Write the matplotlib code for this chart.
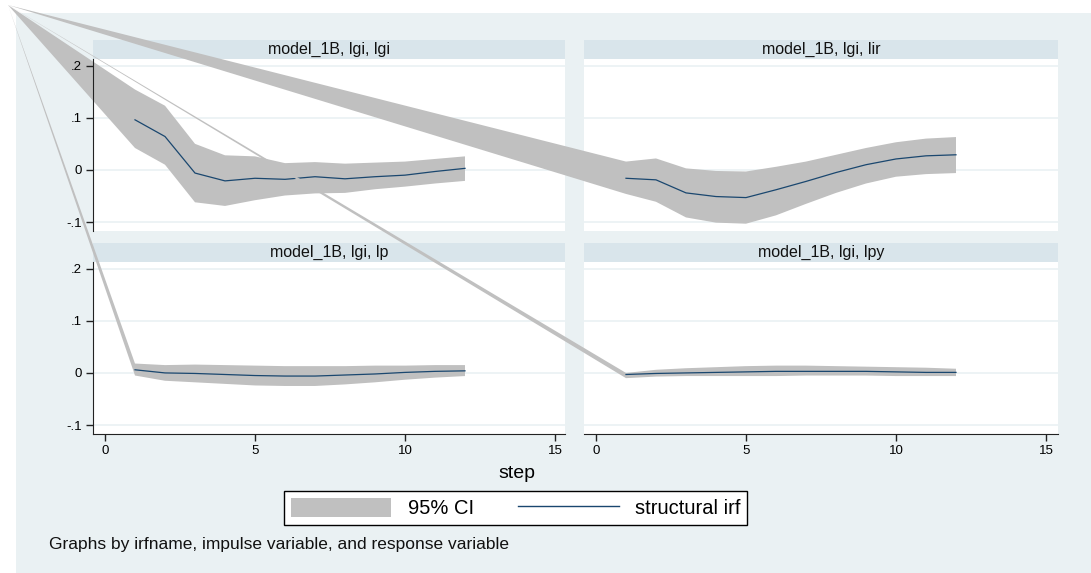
import numpy as np
import matplotlib
matplotlib.use("Agg")
import matplotlib.pyplot as plt
from matplotlib.patches import Rectangle, Patch
from matplotlib.lines import Line2D

plt.rcParams["font.family"] = ["Liberation Sans", "DejaVu Sans"]

# impulse lgi -> responses, steps 1..12 (step 0 band collapses to the corner, as in the original)
steps = np.arange(1, 13)
titles = ["model_1B, lgi, lgi", "model_1B, lgi, lir", "model_1B, lgi, lp", "model_1B, lgi, lpy"]

irf_lgi = [0.096, 0.064, -0.006, -0.021, -0.016, -0.018, -0.013, -0.017, -0.013, -0.010, -0.003, 0.003]
hi_lgi = [0.154, 0.123, 0.050, 0.028, 0.026, 0.013, 0.015, 0.012, 0.014, 0.016, 0.021, 0.026]
lo_lgi = [0.042, 0.010, -0.062, -0.069, -0.058, -0.049, -0.045, -0.044, -0.037, -0.032, -0.026, -0.021]

irf_lir = [-0.016, -0.019, -0.044, -0.051, -0.053, -0.038, -0.022, -0.005, 0.010, 0.021, 0.027, 0.029]
hi_lir = [0.016, 0.022, 0.003, -0.002, -0.003, 0.006, 0.016, 0.029, 0.042, 0.053, 0.060, 0.063]
lo_lir = [-0.046, -0.061, -0.091, -0.101, -0.103, -0.087, -0.065, -0.044, -0.026, -0.013, -0.008, -0.006]

irf_lp = [0.006, 0.000, -0.001, -0.003, -0.005, -0.006, -0.006, -0.004, -0.002, 0.001, 0.003, 0.004]
hi_lp = [0.018, 0.015, 0.016, 0.015, 0.014, 0.013, 0.013, 0.013, 0.014, 0.014, 0.015, 0.015]
lo_lp = [-0.005, -0.015, -0.018, -0.021, -0.024, -0.025, -0.025, -0.022, -0.018, -0.013, -0.009, -0.006]

irf_lpy = [-0.003, -0.001, 0.000, 0.001, 0.002, 0.003, 0.003, 0.003, 0.003, 0.002, 0.001, 0.001]
hi_lpy = [0.000, 0.006, 0.009, 0.011, 0.013, 0.014, 0.014, 0.013, 0.012, 0.011, 0.010, 0.008]
lo_lpy = [-0.010, -0.007, -0.006, -0.006, -0.006, -0.006, -0.005, -0.005, -0.005, -0.006, -0.006, -0.006]

irfs = [irf_lgi, irf_lir, irf_lp, irf_lpy]
his = [hi_lgi, hi_lir, hi_lp, hi_lpy]
los = [lo_lgi, lo_lir, lo_lp, lo_lpy]

yticks = [-0.1, 0, 0.1, 0.2]
ytick_labels = ["-.1", "0", ".1", ".2"]
xticks = [0, 5, 10, 15]

BG = "#eaf1f3"
STRIP = "#d9e5eb"
BAND = "#c0c0c0"
NAVY = "#1a476f"

W, H = 1091, 573
fig = plt.figure(figsize=(W / 100, H / 100), dpi=100, facecolor="white")
fig.add_artist(Rectangle((16 / W, 0), 1, 1 - 13 / H, transform=fig.transFigure,
                         facecolor=BG, edgecolor="none", zorder=-10))

# panel boxes in pixels: left, top, width, height
boxes = [(93, 59, 472, 172), (584, 59, 474, 172), (93, 262, 472, 172), (584, 262, 474, 172)]
corner = (8 / W, 1 - 5 / H)

for i, (l, t, w, h) in enumerate(boxes):
    ax = fig.add_axes([l / W, 1 - (t + h) / H, w / W, h / H], zorder=i)
    ax.set_xlim(-0.4, -0.4 + w / 30)
    ax.set_ylim(-0.117, 0.2125)
    ax.set_facecolor("white")
    for s in ax.spines.values():
        s.set_visible(False)
    ax.set_yticks(yticks)
    ax.set_yticklabels(ytick_labels)
    ax.set_xticks(xticks)
    # light gridlines under the band; ticks and labels stay on top
    for yv in yticks:
        ax.axhline(yv, color=BG, lw=1.2, zorder=0.6)
    ax.set_axisbelow(False)
    ax.tick_params(direction="out", length=5, width=1, color="#222222",
                   labelsize=9.5, pad=3)
    left = i in (0, 2)
    bottom = i in (2, 3)
    if left:
        ax.spines["left"].set_visible(True)
        ax.spines["left"].set_color("#222222")
    else:
        ax.tick_params(axis="y", left=False, labelleft=False)
    if bottom:
        ax.spines["bottom"].set_visible(True)
        ax.spines["bottom"].set_color("#222222")
    else:
        ax.tick_params(axis="x", bottom=False, labelbottom=False)

    # strip header
    sh = 19 / h
    ax.add_patch(Rectangle((0, 1), 1, sh, transform=ax.transAxes, facecolor=STRIP,
                           edgecolor="none", clip_on=False, zorder=0.5))
    ax.text(0.5, 1 + sh / 2, titles[i], transform=ax.transAxes, ha="center",
            va="center", fontsize=11.5, color="#111111", zorder=0.55)

    # band: step-0 bounds end up in the figure corner
    cx, cy = ax.transData.inverted().transform(fig.transFigure.transform(corner))
    verts = [(cx, cy)] + list(zip(steps, his[i])) + list(zip(steps[::-1], los[i][::-1]))
    ax.fill([v[0] for v in verts], [v[1] for v in verts], color=BAND, lw=0,
            clip_on=False, zorder=1)
    ax.plot(steps, irfs[i], color=NAVY, lw=0.9, zorder=2)

fig.text(517 / W, 1 - 473 / H, "step", ha="center", va="center", fontsize=14)
fig.legend(handles=[Patch(facecolor=BAND, edgecolor="none", label="95% CI"),
                    Line2D([], [], color=NAVY, lw=1, label="structural irf")],
           ncol=2, loc="center", bbox_to_anchor=(515.5 / W, 1 - 508 / H),
           fontsize=14.5, frameon=True, fancybox=False, edgecolor="black",
           framealpha=1, handlelength=5, handleheight=1.1, handletextpad=0.8,
           columnspacing=2.2, borderpad=0.35, borderaxespad=0)
fig.text(49 / W, 1 - 545 / H, "Graphs by irfname, impulse variable, and response variable",
         ha="left", va="center", fontsize=12.5, color="#111111")

fig.savefig("out.png", dpi=100, facecolor="white")
